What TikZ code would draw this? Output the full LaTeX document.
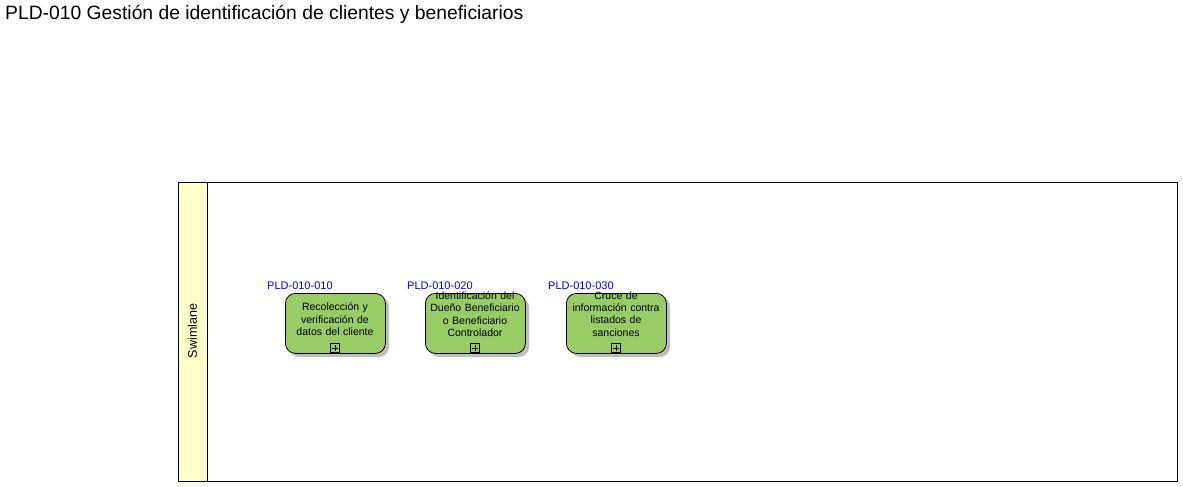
\documentclass[tikz,border=0pt]{standalone}
\usepackage{fontspec}
\setmainfont{Liberation Sans}
\begin{document}
\begin{tikzpicture}[x=1pt,y=-1pt,
  task/.style={draw=black,line width=0.8pt,fill=taskgreen,rounded corners=10pt,minimum width=100pt,minimum height=60pt,inner sep=0pt,anchor=north west},
  shadowbox/.style={fill=black!25,rounded corners=10pt,draw=none},
  tasktext/.style={font=\fontsize{10.5}{12.3}\selectfont,align=center,text width=104pt,anchor=north,inner sep=0pt},
  idlabel/.style={font=\fontsize{11}{12}\selectfont,text=idblue,anchor=south west,inner sep=0pt},
  plusbox/.style={draw=black,line width=0.6pt,minimum size=9pt,inner sep=0pt,fill=taskgreen}
]
\definecolor{taskgreen}{HTML}{99CC66}
\definecolor{lanefill}{HTML}{FFFFCC}
\definecolor{idblue}{HTML}{0000FF}
\useasboundingbox (0,0) rectangle (1183,487);
\node[anchor=north west,inner sep=0pt,font=\fontsize{19.3}{22}\selectfont] (title) at (5,5) {PLD-010 Gestión de identificación de clientes y beneficiarios};
% swimlane
\draw[line width=0.8pt,fill=white] (178,182) rectangle (1177,481);
\draw[line width=0.8pt,fill=lanefill] (178,182) rectangle (207,481);
\node[rotate=90,font=\fontsize{12.5}{14}\selectfont,inner sep=0pt] (lane) at (192.5,331) {Swimlane};
% tasks
\foreach \n/\x/\id/\txt/\ty in {
  t1/285/PLD-010-010/{Recolección y\\verificación de\\datos del cliente}/303,
  t2/425/PLD-010-020/{Identificación del\\Dueño Beneficiario\\o Beneficiario\\Controlador}/291.5,
  t3/566/PLD-010-030/{Cruce de\\información contra\\listados de\\sanciones}/291.5}{
  \fill[shadowbox] (\x+4,297) rectangle (\x+104,357);
  \node[task] (\n) at (\x,293) {};
  \node[tasktext] (\n txt) at (\x+50,\ty) {\txt};
  \node[plusbox] (\n plus) at (\x+50,348) {};
  \draw[line width=0.6pt] ([xshift=-3pt]\n plus.center) -- ([xshift=3pt]\n plus.center) ([yshift=-3pt]\n plus.center) -- ([yshift=3pt]\n plus.center);
  \node[idlabel] (\n id) at (\x-18,290) {\id};
}
\end{tikzpicture}
\end{document}
